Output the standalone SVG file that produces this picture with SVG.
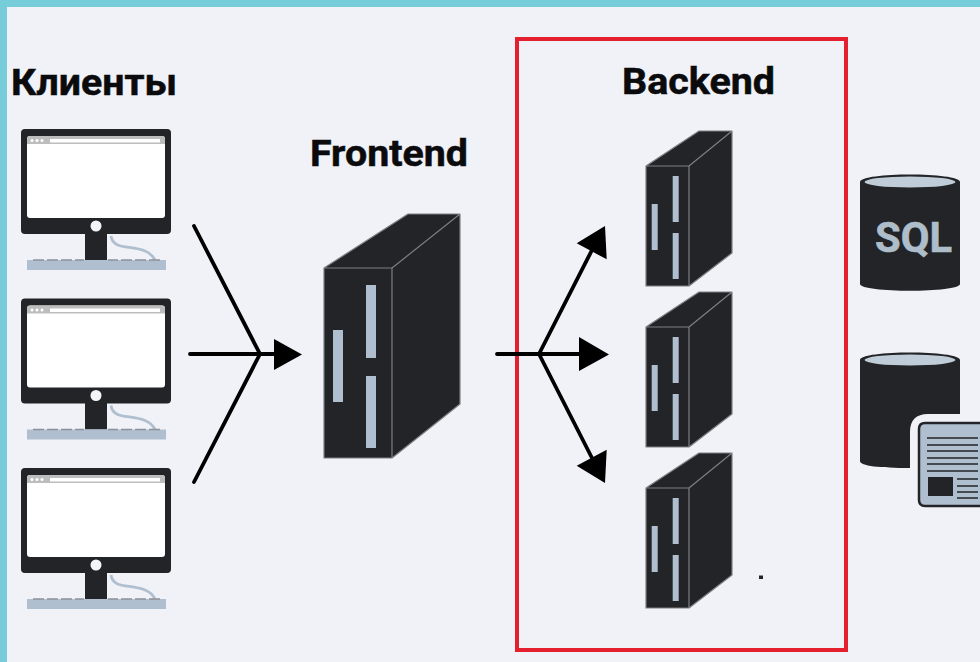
<svg xmlns="http://www.w3.org/2000/svg" xmlns:xlink="http://www.w3.org/1999/xlink" width="980" height="662" viewBox="0 0 980 662">
<style>
.t{font-family:Roboto,"Liberation Sans",sans-serif;font-weight:700;fill:#0b0b0d;stroke:#0b0b0d;stroke-width:.5}
.d{fill:#222427}
.b{fill:#b0bfcf}
.e{fill:none;stroke:#7c7f83;stroke-width:1.2;stroke-linejoin:round}
.l{stroke:#000;stroke-width:3.8;fill:none;stroke-linecap:round}
.h{fill:#000}
.k{stroke:#222427;stroke-width:1.6;fill:none}
</style>
<defs>
<g id="monitor">
<path d="M85 232H107V260H85Z" class="d"/>
<path d="M111 236C113 250 130 245 145 251C150 253 153 256 155 260" fill="none" stroke="#b0bfcf" stroke-width="2.800"/>
<rect x="21" y="129" width="150" height="105" rx="4" class="d"/>
<rect x="27" y="136" width="138" height="82" rx="3" fill="#fff"/>
<path d="M27 139a3 3 0 0 1 3-3H162a3 3 0 0 1 3 3V144H27Z" fill="#bdbdbd"/>
<rect x="50" y="139" width="110" height="3.500" fill="#fff"/>
<circle cx="32" cy="140.500" r="1.500" fill="#fff"/><circle cx="37" cy="140.500" r="1.500" fill="#fff"/><circle cx="42" cy="140.500" r="1.500" fill="#fff"/>
<circle cx="96" cy="226" r="5.500" fill="#f3f4f7"/>
<rect x="27" y="260" width="139" height="10" fill="#b0bfcf"/>
<path d="M33 260H44M47 260H58M61 260H72M75 260H84M108 260H118M121 260H132M135 260H146M149 260H160" stroke="#8d9199" stroke-width="1.500"/>
</g>
<g id="backend">
<path d="M646 166L699 131H732V253L689 286H646Z" class="d"/>
<path class="e" d="M646 166L699 131H732V253L689 286H646ZM646 166H689V286M689 166L732 131"/>
<rect x="651.700" y="204" width="6" height="46" class="b"/>
<rect x="672.700" y="176" width="6" height="46" class="b"/>
<rect x="672.700" y="233" width="6" height="46" class="b"/>
</g>
</defs>
<rect width="980" height="662" fill="#f0f2f7"/>
<path d="M0 0H980V7H7V662H0Z" fill="#76cdd9"/>
<rect id="backend-frame" x="517" y="39" width="329" height="611" fill="none" stroke="#e5202e" stroke-width="4"/>
<text class="t" x="11" y="95" font-size="36.500" textLength="166" lengthAdjust="spacingAndGlyphs">Клиенты</text>
<text class="t" x="310" y="166" font-size="36.500" textLength="158" lengthAdjust="spacingAndGlyphs">Frontend</text>
<text class="t" x="622" y="94" font-size="36.500" textLength="153" lengthAdjust="spacingAndGlyphs">Backend</text>
<g id="client-1"><use href="#monitor"/></g>
<g id="client-2"><use href="#monitor" y="169.500"/></g>
<g id="client-3"><use href="#monitor" y="339"/></g>
<g id="frontend">
<path d="M324 268L408 214H460V404L392 458H324Z" class="d"/>
<path class="e" d="M324 268L408 214H460V404L392 458H324ZM324 268H392V458M392 268L460 214"/>
<rect x="333" y="330" width="10" height="72" class="b"/>
<rect x="366" y="285" width="10" height="73" class="b"/>
<rect x="366" y="376" width="10" height="72" class="b"/>
</g>
<g id="backend-1"><use href="#backend"/></g>
<g id="backend-2"><use href="#backend" y="161"/></g>
<g id="backend-3"><use href="#backend" y="322"/></g>
<rect id="dot" x="759" y="575.500" width="4" height="3.500" fill="#222427"/>
<g id="db-sql">
<path d="M860 182C860 172 960 172 960 182V284C960 293 860 293 860 284Z" class="d"/>
<ellipse cx="910" cy="182" rx="45.500" ry="5.500" fill="#c0cdd8"/>
<text x="875" y="252" font-family="Roboto,'Liberation Sans',sans-serif" font-weight="700" font-size="43" fill="#aebdca" stroke="#aebdca" stroke-width=".6" textLength="77" lengthAdjust="spacingAndGlyphs">SQL</text>
</g>
<g id="db-docs">
<path d="M860 360C860 350 960 350 960 360V414H928Q910 414 910 432V468C880 468 860 466 860 461Z" class="d"/>
<ellipse cx="910" cy="360" rx="45.500" ry="5.500" fill="#c0cdd8"/>
<path d="M980 423H925Q919 423 919 429V500Q919 506 925 506H980" fill="#b0bfcf" stroke="#222427" stroke-width="2.500"/>
<path class="k" d="M927 438H978M927 445H978M927 451H978M927 458H978M927 464H978M927 471H978M957 479H978M957 486H978M957 492H978M957 498H978"/>
<rect x="928" y="477" width="25" height="19" class="d"/>
</g>
<g id="connectors">
<path class="l" d="M194 226L260 354M194 482L260 354M190 354H280"/>
<polygon class="h" points="274,339 302,354.500 274,370"/>
<path class="l" d="M497 354H582M539 354L592 250M539 354L592 458"/>
<polygon class="h" points="579,337 609,354.500 579,371"/>
<polygon class="h" points="605,226 576.700,243.300 606.700,259.300"/>
<polygon class="h" points="605,483 576.700,465.700 606.700,449.700"/>
</g>
</svg>
